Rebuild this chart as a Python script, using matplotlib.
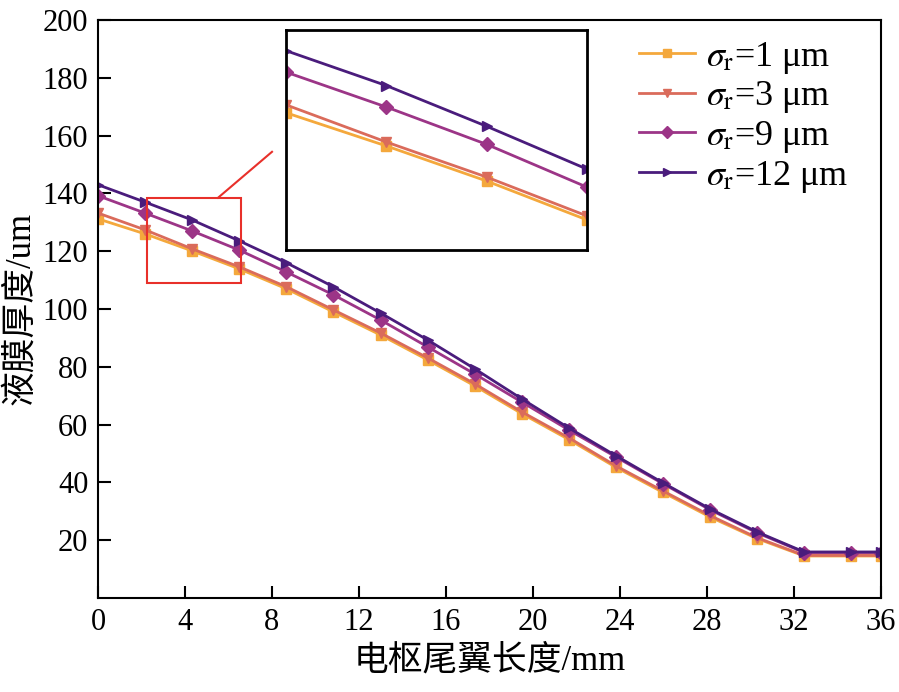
import numpy as np
import matplotlib
matplotlib.use('Agg')
import matplotlib.pyplot as plt
from matplotlib.patches import Rectangle

plt.rcParams['font.family'] = ['Liberation Serif', 'Noto Sans CJK SC']
plt.rcParams['mathtext.fontset'] = 'stix'

# 电枢尾翼长度 / mm
x = [0, 2.16, 4.33, 6.49, 8.66, 10.82, 12.99, 15.15, 17.32, 19.48,
     21.65, 23.81, 25.98, 28.14, 30.31, 32.47, 34.64, 36]

# 液膜厚度 / um
h1 = [131.2, 126.0, 120.1, 113.9, 107.0, 99.0, 91.0, 82.4, 73.4, 63.8,
      54.8, 45.2, 36.5, 28.0, 20.5, 14.5, 14.5, 14.5]
h3 = [133.2, 127.4, 120.8, 114.6, 107.7, 99.7, 91.7, 83.1, 74.1, 64.4,
      55.4, 45.7, 37.0, 28.5, 20.8, 14.7, 14.7, 14.7]
h9 = [139.2, 133.2, 127.0, 120.4, 112.8, 104.9, 96.2, 86.9, 77.5, 67.8,
      58.1, 48.8, 39.5, 30.5, 22.5, 15.7, 15.7, 15.7]
h12 = [143.0, 137.0, 130.8, 123.6, 116.0, 107.7, 98.6, 89.3, 79.3, 68.9,
       58.8, 49.2, 39.8, 30.8, 22.8, 15.9, 15.9, 15.9]

labels = [r'$\sigma_\mathrm{r}$=1 μm', r'$\sigma_\mathrm{r}$=3 μm',
          r'$\sigma_\mathrm{r}$=9 μm', r'$\sigma_\mathrm{r}$=12 μm']
colors = ['#F4A83C', '#DA6B5B', '#9C3587', '#4A1C7C']
markers = ['s', 'v', 'D', '>']
series = [h1, h3, h9, h12]

fig = plt.figure(figsize=(8.99, 6.92), dpi=100)
ax = fig.add_axes([0.109, 0.136, 0.871, 0.835])

for y, c, m, lab in zip(series, colors, markers, labels):
    ax.plot(x, y, color=c, marker=m, markersize=7, linewidth=2, label=lab)

ax.set_xlim(0, 36)
ax.set_ylim(0, 200)
ax.set_xticks(np.arange(0, 37, 4))
ax.set_yticks(np.arange(20, 201, 20))
ax.tick_params(direction='in', length=9, width=1.5, labelsize=22,
               top=False, right=False, pad=7)
for s in ax.spines.values():
    s.set_linewidth(1.5)
ax.set_xlabel('电枢尾翼长度/mm', fontsize=25, labelpad=6)
ax.set_ylabel('液膜厚度/um', fontsize=25, labelpad=4)

leg = ax.legend(loc='upper right', frameon=False, fontsize=26,
                handlelength=1.55, handletextpad=0.3, labelspacing=0.1,
                markerscale=0.85, bbox_to_anchor=(1.0, 1.022))

# zoom box
ax.add_patch(Rectangle((2.25, 109), 4.32, 29.5, fill=False,
                       edgecolor='#E8302A', linewidth=1.5, zorder=5))
ax.plot([5.52, 8.0], [138.5, 154.4], color='#E8302A', linewidth=1.5, zorder=5)

# inset
axin = fig.add_axes([0.318, 0.639, 0.335, 0.318])
for y, c, m in zip(series, colors, markers):
    axin.plot(x, y, color=c, marker=m, markersize=7, linewidth=2)
axin.set_xlim(2.16, 8.66)
axin.set_ylim(101.7, 140.7)
axin.set_xticks([])
axin.set_yticks([])
for s in axin.spines.values():
    s.set_linewidth(2)

fig.savefig('out.png', dpi=100)
